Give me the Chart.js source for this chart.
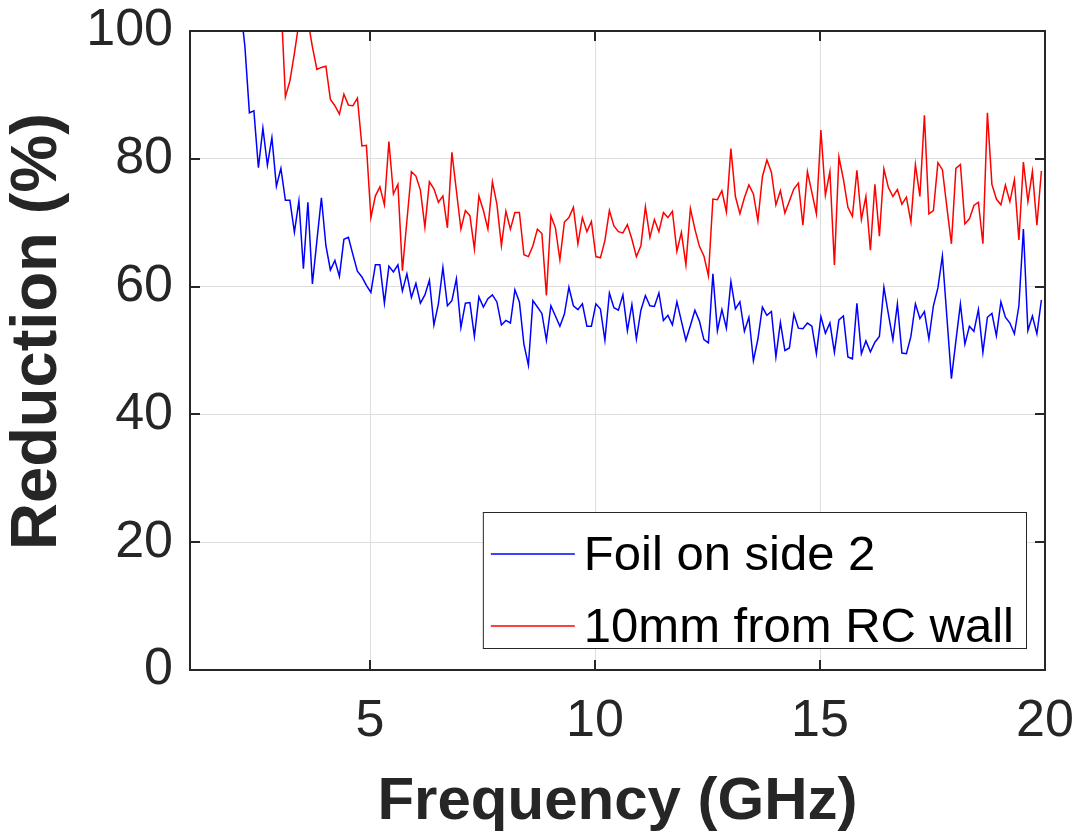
<!DOCTYPE html>
<html>
<head>
<meta charset="utf-8">
<script src="https://cdn.jsdelivr.net/npm/chart.js@4.4.1/dist/chart.umd.min.js"></script>
<style>
  html, body { margin: 0; padding: 0; background: #ffffff; }
  #wrap { width: 1085px; height: 832px; position: relative; }
</style>
</head>
<body>
<div id="wrap"><canvas id="c" width="1085" height="832"></canvas></div>
<script>
// Measurement sweep (GHz)
const frequencyGHz = [
  2.12, 2.22, 2.32, 2.42, 2.52, 2.62, 2.72, 2.82, 2.92,
  3.02, 3.12, 3.22, 3.32, 3.42, 3.52, 3.62, 3.72, 3.82, 3.92,
  4.02, 4.12, 4.22, 4.32, 4.42, 4.52, 4.62, 4.72, 4.82, 4.92,
  5.02, 5.12, 5.22, 5.32, 5.42, 5.52, 5.62, 5.72, 5.82, 5.92,
  6.02, 6.12, 6.22, 6.32, 6.42, 6.52, 6.62, 6.72, 6.82, 6.92,
  7.02, 7.12, 7.22, 7.32, 7.42, 7.52, 7.62, 7.72, 7.82, 7.92,
  8.02, 8.12, 8.22, 8.32, 8.42, 8.52, 8.62, 8.72, 8.82, 8.92,
  9.02, 9.12, 9.22, 9.32, 9.42, 9.52, 9.62, 9.72, 9.82, 9.92,
  10.02, 10.12, 10.22, 10.32, 10.42, 10.52, 10.62, 10.72, 10.82, 10.92,
  11.02, 11.12, 11.22, 11.32, 11.42, 11.52, 11.62, 11.72, 11.82, 11.92,
  12.02, 12.12, 12.22, 12.32, 12.42, 12.52, 12.62, 12.72, 12.82, 12.92,
  13.02, 13.12, 13.22, 13.32, 13.42, 13.52, 13.62, 13.72, 13.82, 13.92,
  14.02, 14.12, 14.22, 14.32, 14.42, 14.52, 14.62, 14.72, 14.82, 14.92,
  15.02, 15.12, 15.22, 15.32, 15.42, 15.52, 15.62, 15.72, 15.82, 15.92,
  16.02, 16.12, 16.22, 16.32, 16.42, 16.52, 16.62, 16.72, 16.82, 16.92,
  17.02, 17.12, 17.22, 17.32, 17.42, 17.52, 17.62, 17.72, 17.82, 17.92,
  18.02, 18.12, 18.22, 18.32, 18.42, 18.52, 18.62, 18.72, 18.82, 18.92,
  19.02, 19.12, 19.22, 19.32, 19.42, 19.52, 19.62, 19.72, 19.82, 19.92
];

// Reduction (%) with the foil on side 2
const foilOnSide2 = [
  104, 97.6, 87.2, 87.5, 78.6, 84.8, 79.0, 83.3, 75.7,
  78.5, 73.5, 73.5, 68.5, 73.4, 62.8, 73.2, 60.4, 67.2, 73.9,
  66.4, 62.6, 64.1, 61.6, 67.4, 67.7, 65.0, 62.4, 61.5, 60.2,
  59.1, 63.4, 63.4, 57.4, 63.2, 62.3, 63.4, 59.3, 62.0, 58.3,
  60.5, 57.4, 58.7, 61.0, 54.0, 57.3, 63.0, 57.0, 57.8, 61.2,
  53.6, 57.4, 57.5, 52.2, 58.4, 56.8, 58.1, 58.7, 57.6, 54.0,
  54.7, 54.3, 59.5, 57.6, 51.0, 47.7, 57.8, 56.8, 55.8, 51.6,
  57.0, 55.4, 53.8, 55.7, 59.9, 57.0, 56.4, 57.3, 53.8, 53.8,
  57.3, 56.5, 51.6, 59.0, 56.7, 56.3, 58.7, 53.1, 57.2, 51.8,
  56.3, 58.6, 57.0, 56.9, 59.0, 54.7, 55.5, 54.0, 57.6, 54.6,
  51.6, 53.9, 56.3, 54.6, 51.7, 51.2, 62.0, 53.1, 56.4, 53.5,
  60.8, 56.5, 57.6, 53.0, 55.2, 48.4, 51.8, 56.8, 55.5, 56.1,
  49.0, 54.4, 50.0, 50.4, 55.7, 53.5, 53.4, 54.3, 53.8, 49.5,
  55.3, 52.7, 54.3, 49.7, 54.8, 55.4, 49.0, 48.7, 57.4, 49.5,
  51.5, 49.8, 51.3, 52.2, 59.9, 55.7, 51.7, 57.3, 49.6, 49.5,
  52.2, 57.3, 55.0, 56.1, 51.8, 57.0, 59.8, 64.8, 55.2, 45.6,
  51.5, 57.3, 51.0, 53.8, 53.0, 56.4, 49.7, 55.2, 55.8, 52.3,
  57.6, 55.2, 54.3, 52.6, 57.0, 69.0, 53.1, 55.4, 52.6, 57.9
];

// Reduction (%) with the sample 10 mm from the reverberation chamber wall
const tenMmFromRcWall = [
  null, null, null, null, null, null, null, null, null,
  105, 89.7, 92.2, 96.5, 101.3, 103, 101.7, 97.5, 94.0, 94.3,
  94.5, 89.3, 88.3, 87.0, 90.1, 88.4, 88.3, 89.5, 82.0, 82.1,
  70.8, 74.2, 75.6, 72.8, 82.7, 74.5, 76.0, 62.5, 70.3, 78.0,
  77.3, 75.1, 69.3, 76.4, 75.3, 73.2, 74.2, 69.2, 81.0, 75.0,
  69.0, 71.9, 71.1, 65.9, 74.2, 71.9, 69.0, 76.4, 72.9, 66.4,
  71.8, 69.0, 71.6, 71.6, 65.0, 64.7, 66.4, 69.0, 68.3, 58.6,
  71.1, 69.2, 64.2, 70.1, 70.8, 72.4, 66.7, 70.8, 68.6, 70.2,
  64.7, 64.5, 67.2, 71.9, 69.5, 68.6, 68.4, 69.7, 67.4, 64.7,
  66.4, 72.5, 67.7, 70.5, 68.6, 71.6, 70.8, 71.8, 65.5, 68.5,
  63.4, 72.2, 69.0, 66.3, 64.8, 61.7, 73.7, 73.6, 75.0, 71.7,
  81.6, 74.1, 71.4, 73.9, 75.9, 74.5, 70.3, 77.2, 79.8, 77.9,
  72.8, 75.0, 71.5, 73.4, 75.3, 76.2, 69.6, 78.0, 74.7, 71.4,
  84.5, 74.3, 78.0, 63.4, 80.3, 76.8, 72.4, 71.0, 78.2, 70.5,
  74.1, 65.7, 76.0, 67.9, 78.4, 75.5, 74.1, 75.2, 72.9, 74.0,
  70.1, 79.1, 74.1, 86.8, 71.4, 71.9, 79.4, 78.3, 72.4, 66.7,
  78.5, 79.1, 69.8, 70.6, 72.7, 73.2, 66.7, 87.2, 76.0, 73.7,
  72.8, 75.9, 73.3, 76.7, 67.3, 79.5, 73.3, 78.0, 69.6, 78.1
];

const seriesNames = ['Foil on side 2', '10mm from RC wall'];
const seriesColors = ['#0000ff', '#ff0000'];
const xTickValues = [5, 10, 15, 20];
const xRange = [1, 20];
const yRange = [0, 100];
const yStep = 20;
const xTitle = 'Frequency (GHz)';
const yTitle = 'Reduction (%)';

const INK = '#262626';
const FONT = '"Liberation Sans", Arial, Helvetica, sans-serif';

function toPoints(values) {
  return frequencyGHz.map((f, i) => ({ x: f, y: values[i] }));
}

// Box around the axes with short inward tick marks on all four sides
const axesBox = {
  id: 'axesBox',
  afterDatasetsDraw(chart) {
    const { ctx, chartArea: a, scales: { x, y } } = chart;
    const len = 10;
    ctx.save();
    ctx.strokeStyle = INK;
    ctx.lineWidth = 2;
    ctx.beginPath();
    y.ticks.forEach(t => {
      const py = Math.round(y.getPixelForValue(t.value));
      ctx.moveTo(a.left, py); ctx.lineTo(a.left + len, py);
      ctx.moveTo(a.right, py); ctx.lineTo(a.right - len, py);
    });
    x.ticks.forEach(t => {
      const px = Math.round(x.getPixelForValue(t.value));
      ctx.moveTo(px, a.bottom); ctx.lineTo(px, a.bottom - len);
      ctx.moveTo(px, a.top); ctx.lineTo(px, a.top + len);
    });
    ctx.stroke();
    ctx.strokeRect(a.left, a.top, a.right - a.left, a.bottom - a.top);
    ctx.restore();
  }
};

// Vertical axis title, set slightly above the middle of the axis
const yAxisTitle = {
  id: 'yAxisTitle',
  afterDraw(chart) {
    const { ctx, chartArea: a } = chart;
    ctx.save();
    ctx.translate(38, (a.top + a.bottom) / 2 - 19);
    ctx.rotate(-Math.PI / 2);
    ctx.font = 'bold 65px ' + FONT;
    ctx.fillStyle = INK;
    ctx.textAlign = 'center';
    ctx.textBaseline = 'middle';
    ctx.fillText(yTitle, 0, 0);
    ctx.restore();
  }
};

// Legend box in the lower right corner of the axes
const insetLegend = {
  id: 'insetLegend',
  afterDraw(chart) {
    const { ctx, chartArea: a } = chart;
    const fontSize = 49;
    ctx.save();
    ctx.font = fontSize + 'px ' + FONT;
    const labels = chart.data.datasets.map(d => d.label);
    const textW = Math.max(...labels.map(l => ctx.measureText(l).width));
    const w = 101 + textW + 12;
    const h = 136;
    const right = a.right - 19;
    const bottom = a.bottom - 22;
    const left = right - w;
    const top = bottom - h;
    ctx.fillStyle = '#ffffff';
    ctx.fillRect(left, top, w, h);
    ctx.strokeStyle = INK;
    ctx.lineWidth = 1;
    ctx.strokeRect(left + 0.5, top + 0.5, w, h);
    const rows = [top + 42, top + 114];
    chart.data.datasets.forEach((d, i) => {
      const cy = rows[i];
      ctx.strokeStyle = d.borderColor;
      ctx.lineWidth = 1.5;
      ctx.beginPath();
      ctx.moveTo(left + 8, cy);
      ctx.lineTo(left + 92, cy);
      ctx.stroke();
      ctx.fillStyle = '#000000';
      ctx.textBaseline = 'middle';
      ctx.textAlign = 'left';
      ctx.fillText(d.label, left + 101, cy + 2);
    });
    ctx.restore();
  }
};

new Chart(document.getElementById('c'), {
  type: 'line',
  data: {
    datasets: [
      { label: seriesNames[0], data: toPoints(foilOnSide2), borderColor: seriesColors[0] },
      { label: seriesNames[1], data: toPoints(tenMmFromRcWall), borderColor: seriesColors[1] }
    ]
  },
  options: {
    responsive: false,
    devicePixelRatio: 1,
    animation: false,
    layout: { padding: { left: 0, right: 40, top: 31, bottom: 0 } },
    elements: {
      line: { borderWidth: 1.5, tension: 0, fill: false },
      point: { radius: 0, hoverRadius: 0 }
    },
    datasets: { line: { clip: 0, spanGaps: false } },
    plugins: {
      legend: { display: false },
      tooltip: { enabled: false }
    },
    scales: {
      x: {
        type: 'linear',
        min: xRange[0],
        max: xRange[1],
        afterBuildTicks(scale) { scale.ticks = xTickValues.map(v => ({ value: v })); },
        afterFit(scale) {
          scale.height = 162;
          scale.paddingLeft = 0; scale.paddingRight = 0;
          scale.paddingTop = 0; scale.paddingBottom = 0;
        },
        grid: { color: '#dedede', lineWidth: 1, drawTicks: false },
        border: { display: false },
        ticks: { color: INK, font: { family: FONT, size: 52 }, padding: 20, maxRotation: 0 },
        title: {
          display: true, text: xTitle, color: INK,
          font: { family: FONT, size: 60, weight: 'bold', lineHeight: 1 },
          padding: { top: 0, bottom: 0 }
        }
      },
      y: {
        min: yRange[0],
        max: yRange[1],
        afterFit(scale) {
          scale.width = 190;
          scale.paddingLeft = 0; scale.paddingRight = 0;
          scale.paddingTop = 0; scale.paddingBottom = 0;
        },
        grid: { color: '#dedede', lineWidth: 1, drawTicks: false },
        border: { display: false },
        ticks: { stepSize: yStep, color: INK, font: { family: FONT, size: 52 }, padding: 17 },
        title: { display: false }
      }
    }
  },
  plugins: [axesBox, yAxisTitle, insetLegend]
});
</script>
</body>
</html>
